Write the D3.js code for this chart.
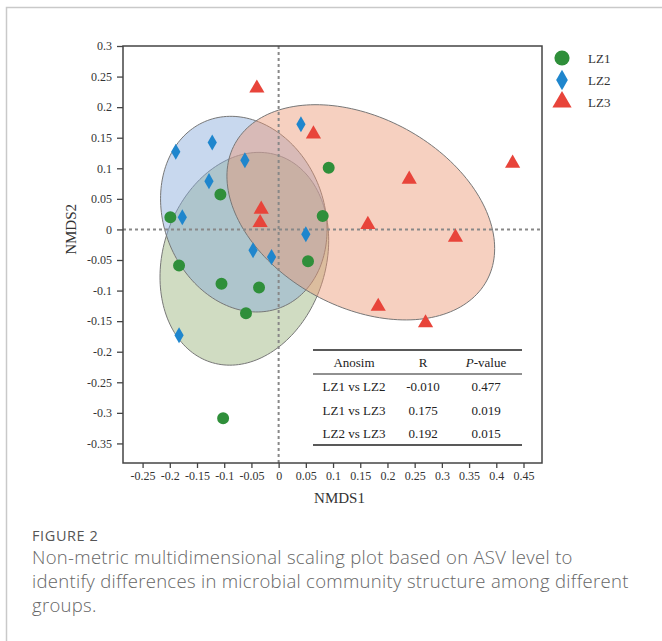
<!DOCTYPE html>
<html>
<head>
<meta charset="utf-8">
<script src="https://cdn.jsdelivr.net/npm/d3@7"></script>
<style>
body { margin: 0; background: #fff; }
</style>
</head>
<body>
<div id="chart"></div>
<script>
// Data

var groups = ["LZ1", "LZ2", "LZ3"];

var lz1 = [
	[-0.107, 0.057], [-0.199, 0.020], [0.092, 0.101], [0.081, 0.022],
	[-0.183, -0.059], [-0.105, -0.089], [-0.036, -0.095], [-0.060, -0.137],
	[0.054, -0.052], [-0.102, -0.309]
];
var lz2 = [
	[-0.189, 0.127], [-0.122, 0.142], [-0.062, 0.113], [-0.128, 0.079],
	[-0.177, 0.020], [0.041, 0.172], [0.050, -0.008], [-0.047, -0.034],
	[-0.013, -0.045], [-0.183, -0.173]
];
var lz3 = [
	[-0.040, 0.231], [0.064, 0.156], [-0.032, 0.033], [-0.034, 0.011],
	[0.240, 0.082], [0.430, 0.108], [0.164, 0.008], [0.325, -0.013],
	[0.183, -0.126], [0.270, -0.153]
];

// ellipse: centre, half-width (x), half-height (y), correlation
var ellipses = [
	{g: "LZ1", cx: -0.063, cy: -0.048, sx: 0.155, sy: 0.174, rho: 0.172},
	{g: "LZ2", cx: -0.064, cy: 0.025, sx: 0.153, sy: 0.160, rho: -0.157},
	{g: "LZ3", cx: 0.151, cy: 0.028, sx: 0.246, sy: 0.176, rho: -0.336}
];

var xTicks = [-0.25, -0.2, -0.15, -0.1, -0.05, 0, 0.05, 0.1, 0.15, 0.2, 0.25, 0.3, 0.35, 0.4, 0.45];
var yTicks = [0.3, 0.25, 0.2, 0.15, 0.1, 0.05, 0, -0.05, -0.1, -0.15, -0.2, -0.25, -0.3, -0.35];

var tableHead = ["Anosim", "R", "P-value"];
var tableRows = [
	["LZ1 vs LZ2", "-0.010", "0.477"],
	["LZ1 vs LZ3", "0.175", "0.019"],
	["LZ2 vs LZ3", "0.192", "0.015"]
];

var captionTitle = "FIGURE 2";
var captionLines = [
	"Non-metric multidimensional scaling plot based on ASV level to",
	"identify differences in microbial community structure among different",
	"groups."
];

// Globals

var width = 662;
var height = 641;
var svg = d3.select("#chart")
	.append("svg")
	.attr("width", width)
	.attr("height", height);

var frame = {l: 123, r: 542, t: 46, b: 463};
var serif = "'Liberation Serif', 'Times New Roman', serif";

var markColor = {LZ1: "#2f8f3a", LZ2: "#1f86cd", LZ3: "#e8443a"};
var fillColor = {LZ1: "#97b177", LZ2: "#85a8d9", LZ3: "#eb9673"};
var shape = {LZ1: d3.symbolCircle, LZ2: d3.symbolDiamond, LZ3: d3.symbolTriangle};
var shapeSize = {LZ1: 113, LZ2: 74, LZ3: 100};

var xScale = d3.scaleLinear()
	.domain([-0.286, 0.484])
	.range([frame.l, frame.r]);

var yScale = d3.scaleLinear()
	.domain([-0.382, 0.3])
	.range([frame.b, frame.t]);

function fmt(v) { return String(+v.toFixed(2)); }

// page border
svg.append("path")
	.attr("d", "M6.5," + height + "V7.5H" + width)
	.attr("fill", "none")
	.attr("stroke", "#c9c9c9")
	.attr("stroke-width", 1.5);

// Ellipses
var line = d3.line()
	.x(function(p) { return xScale(p[0]); })
	.y(function(p) { return yScale(p[1]); })
	.curve(d3.curveLinearClosed);

svg.selectAll(".ell")
	.data(ellipses)
	.enter().append("path")
		.attr("class", "ell")
		.attr("d", function(e) {
			var pts = d3.range(0, 2 * Math.PI, Math.PI / 90).map(function(t) {
				return [
					e.cx + e.sx * Math.cos(t),
					e.cy + e.sy * (e.rho * Math.cos(t) + Math.sqrt(1 - e.rho * e.rho) * Math.sin(t))
				];
			});
			return line(pts);
		})
		.attr("fill", function(e) { return fillColor[e.g]; })
		.attr("fill-opacity", 0.45)
		.attr("stroke", "#777")
		.attr("stroke-width", 1);

// zero lines
svg.append("line")
	.attr("x1", xScale(0)).attr("x2", xScale(0))
	.attr("y1", frame.t).attr("y2", frame.b)
	.attr("stroke", "#888").attr("stroke-width", 2)
	.attr("stroke-dasharray", "3,3");
svg.append("line")
	.attr("x1", frame.l).attr("x2", frame.r)
	.attr("y1", yScale(0)).attr("y2", yScale(0))
	.attr("stroke", "#888").attr("stroke-width", 2)
	.attr("stroke-dasharray", "3,3");

// Points
var series = [
	{g: "LZ1", pts: lz1},
	{g: "LZ2", pts: lz2},
	{g: "LZ3", pts: lz3}
];
series.forEach(function(s) {
	svg.selectAll(".pt-" + s.g)
		.data(s.pts)
		.enter().append("path")
			.attr("class", "pt-" + s.g)
			.attr("transform", function(d) { return "translate(" + xScale(d[0]) + "," + yScale(d[1]) + ")"; })
			.attr("d", d3.symbol().type(shape[s.g]).size(shapeSize[s.g]))
			.attr("fill", markColor[s.g]);
});

// Axes
var xAxis = svg.append("g")
	.attr("transform", "translate(0," + frame.b + ")")
	.call(d3.axisBottom(xScale).tickValues(xTicks).tickFormat(fmt).tickSize(5).tickPadding(3));
var yAxis = svg.append("g")
	.attr("transform", "translate(" + frame.l + ",0)")
	.call(d3.axisLeft(yScale).tickValues(yTicks).tickFormat(fmt).tickSize(6).tickPadding(5));

[xAxis, yAxis].forEach(function(a) {
	a.select(".domain").remove();
	a.selectAll("line").attr("stroke", "#444").attr("stroke-width", 1.3);
	a.selectAll("text")
		.attr("fill", "#333")
		.style("font-family", serif)
		.style("font-size", "12px");
});

svg.append("rect")
	.attr("x", frame.l).attr("y", frame.t)
	.attr("width", frame.r - frame.l)
	.attr("height", frame.b - frame.t)
	.attr("fill", "none")
	.attr("stroke", "#444")
	.attr("stroke-width", 1.5);

svg.append("text")
	.attr("x", (frame.l + frame.r) / 2 + 7)
	.attr("y", 503)
	.attr("text-anchor", "middle")
	.attr("fill", "#333")
	.style("font-family", serif)
	.style("font-size", "15px")
	.text("NMDS1");

svg.append("text")
	.attr("transform", "translate(76," + yScale(0) + ") rotate(-90)")
	.attr("text-anchor", "middle")
	.attr("fill", "#333")
	.style("font-family", serif)
	.style("font-size", "15px")
	.text("NMDS2");

// Legend
var legend = svg.selectAll(".legend")
	.data(groups)
	.enter().append("g")
		.attr("class", "legend")
		.attr("transform", function(d, i) { return "translate(562," + (58 + i * 22) + ")"; });
legend.append("path")
	.attr("d", function(g) { return d3.symbol().type(shape[g]).size(shapeSize[g] * 1.6)(); })
	.attr("fill", function(g) { return markColor[g]; });
legend.append("text")
	.attr("x", 26)
	.attr("y", 5)
	.attr("fill", "#333")
	.style("font-family", serif)
	.style("font-size", "13px")
	.text(function(g) { return g; });

// Table
var tab = {l: 313, r: 522, top: 350, head: 374, bot: 445};
var colX = [354, 423, 486];
svg.append("line").attr("x1", tab.l).attr("x2", tab.r).attr("y1", tab.top).attr("y2", tab.top)
	.attr("stroke", "#222").attr("stroke-width", 1.5);
svg.append("line").attr("x1", tab.l).attr("x2", tab.r).attr("y1", tab.head).attr("y2", tab.head)
	.attr("stroke", "#222").attr("stroke-width", 1);
svg.append("line").attr("x1", tab.l).attr("x2", tab.r).attr("y1", tab.bot).attr("y2", tab.bot)
	.attr("stroke", "#222").attr("stroke-width", 1.5);

var head = svg.append("g");
tableHead.forEach(function(h, i) {
	var t = head.append("text")
		.attr("x", colX[i]).attr("y", 367)
		.attr("text-anchor", "middle")
		.attr("fill", "#222")
		.style("font-family", serif)
		.style("font-size", "13px");
	if (h.indexOf("P-") === 0) {
		t.append("tspan").style("font-style", "italic").text("P");
		t.append("tspan").text(h.slice(1));
	} else {
		t.text(h);
	}
});

tableRows.forEach(function(row, r) {
	row.forEach(function(c, i) {
		svg.append("text")
			.attr("x", colX[i]).attr("y", 391 + r * 23.5)
			.attr("text-anchor", "middle")
			.attr("fill", "#222")
			.style("font-family", serif)
			.style("font-size", "13px")
			.text(c);
	});
});

// Caption
svg.append("text")
	.attr("x", 32).attr("y", 541)
	.attr("fill", "#555")
	.style("font-family", "'Open Sans', sans-serif")
	.style("font-size", "14.5px")
	.style("letter-spacing", "0.6px")
	.text(captionTitle);

svg.selectAll(".cap")
	.data(captionLines)
	.enter().append("text")
		.attr("class", "cap")
		.attr("x", 32)
		.attr("y", function(d, i) { return 564 + i * 24; })
		.attr("fill", "#666")
		.style("font-family", "'Open Sans', sans-serif")
		.style("font-weight", 300)
		.style("font-size", "18.5px")
		.style("letter-spacing", "0.3px")
		.text(function(d) { return d; });
</script>
</body>
</html>
